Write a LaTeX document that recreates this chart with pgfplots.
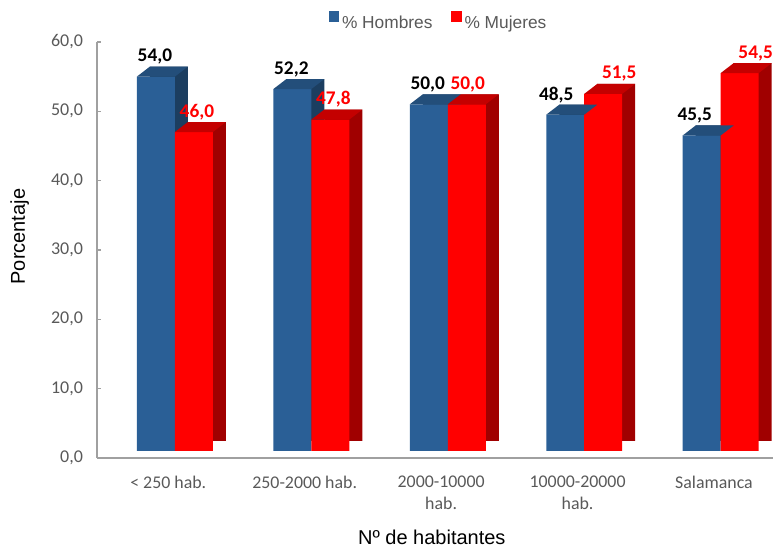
\documentclass[border=0pt]{standalone}
\usepackage{fontspec}
\setmainfont{Carlito}
\newfontfamily\arialf{Liberation Sans}
\usepackage{pgfplots}
\pgfplotsset{compat=1.18}
\usepackage{pgfplotstable}
\definecolor{bfront}{HTML}{2A5F96}
\definecolor{btop}{HTML}{234E7A}
\definecolor{bside}{HTML}{1C3E60}
\definecolor{rfront}{HTML}{FF0000}
\definecolor{rtop}{HTML}{C40000}
\definecolor{rside}{HTML}{A00000}
\definecolor{tickgray}{HTML}{595959}
\definecolor{axgray}{HTML}{A0A0A0}

% top face of a 3D bar (parallelogram), drawn at the bar's top
\pgfdeclareplotmark{topface}{%
  \pgfpathmoveto{\pgfpoint{-14.25pt}{0pt}}%
  \pgfpathlineto{\pgfpoint{-4.5pt}{7.5pt}}%
  \pgfpathlineto{\pgfpoint{24pt}{7.5pt}}%
  \pgfpathlineto{\pgfpoint{14.25pt}{0pt}}%
  \pgfpathclose\pgfusepathqfill}

\pgfplotstableread{
x hom muj lh lm
0 54.0 46.0 -15 16.5
1 52.2 47.8 -15 16.5
2 50.0 50.0 -15 15
3 48.5 51.5 -21 26.25
4 45.5 54.5 -19.5 26.25
}\datos

\begin{document}
\begin{tikzpicture}
\useasboundingbox (-72.75pt,-67.5pt) rectangle (507.25pt,343.5pt);
\begin{axis}[
 at={(0,0)}, anchor=south west,
 scale only axis, width=507pt, height=312pt,
 xmin=-0.5714, xmax=4.381, ymin=0, ymax=60,
 clip=false,
 axis lines*=left,
 x axis line style={axgray, line width=1.6pt},
 y axis line style={axgray, line width=1pt},
 xtick={0,...,4},
 xticklabels={{< 250 hab.},{250-2000 hab.},{2000-10000\\hab.},{10000-20000\\hab.},{Salamanca}},
 xtick style={draw=none},
 ytick={0,10,...,60},
 ytick style={axgray, line width=1pt},
 major tick length=3pt, tick align=inside,
 yticklabel style={font=\fontsize{13.5}{14}\selectfont, text=tickgray, xshift=-7pt},
 xticklabel style={font=\fontsize{13.4}{16.5}\selectfont, text=tickgray, align=center, yshift=-10pt, xshift=-5pt},
 /pgf/number format/fixed, /pgf/number format/fixed zerofill,
 /pgf/number format/precision=1, /pgf/number format/use comma,
 /pgf/number format/assume math mode=true,
 xlabel={Nº de habitantes},
 ylabel={Porcentaje},
 every axis x label/.style={at={(axis description cs:0.4956,0)}, yshift=-60pt, anchor=center, font=\arialf\fontsize{15}{17}\selectfont},
 every axis y label/.style={at={(axis description cs:0,0.5)}, xshift=-58pt, yshift=10pt, rotate=90, anchor=center, font=\arialf\fontsize{15}{17}\selectfont},
 legend style={at={(axis description cs:0.506,1)}, anchor=center, yshift=15pt, draw=none, fill=none, legend columns=2, font=\arialf\fontsize{13}{14}\selectfont, text=tickgray, /tikz/every even column/.append style={column sep=12pt}},
 nodes near coords style={font=\bfseries\fontsize{14.5}{15}\selectfont, anchor=center, yshift=15pt},
]
% Hombres
\addplot[ybar, bar width=28.5pt, bar shift=-14.25pt, fill=bside, draw=none, xshift=9.75pt, yshift=12.75pt, forget plot] table[x=x,y=hom]{\datos};
\addplot[ybar, bar width=28.5pt, bar shift=-14.25pt, fill=bfront, draw=none, yshift=5.25pt,
  visualization depends on={\thisrow{lh}\as\labdx},
  nodes near coords, every node near coord/.append style={text=black, xshift=\labdx pt},
  legend image code/.code={\fill[bfront] (0pt,-4.5pt) rectangle (8pt,3.5pt);}] table[x=x,y=hom]{\datos};
\addlegendentry{\% Hombres}
\addplot[only marks, mark=topface, mark options={fill=btop, draw=none}, xshift=-14.25pt, yshift=5.25pt, forget plot] table[x=x, y=hom]{\datos};
% Mujeres
\addplot[ybar, bar width=28.5pt, bar shift=14.25pt, fill=rside, draw=none, xshift=9.75pt, yshift=12.75pt, forget plot] table[x=x,y=muj]{\datos};
\addplot[ybar, bar width=28.5pt, bar shift=14.25pt, fill=rfront, draw=none, yshift=5.25pt,
  visualization depends on={\thisrow{lm}\as\labdx},
  nodes near coords, every node near coord/.append style={text=rfront, xshift=\labdx pt},
  legend image code/.code={\fill[rfront] (0pt,-4.5pt) rectangle (8pt,3.5pt);}] table[x=x,y=muj]{\datos};
\addlegendentry{\% Mujeres}
\addplot[only marks, mark=topface, mark options={fill=rtop, draw=none}, xshift=14.25pt, yshift=5.25pt, forget plot] table[x=x, y=muj]{\datos};
\end{axis}
\end{tikzpicture}
\end{document}
